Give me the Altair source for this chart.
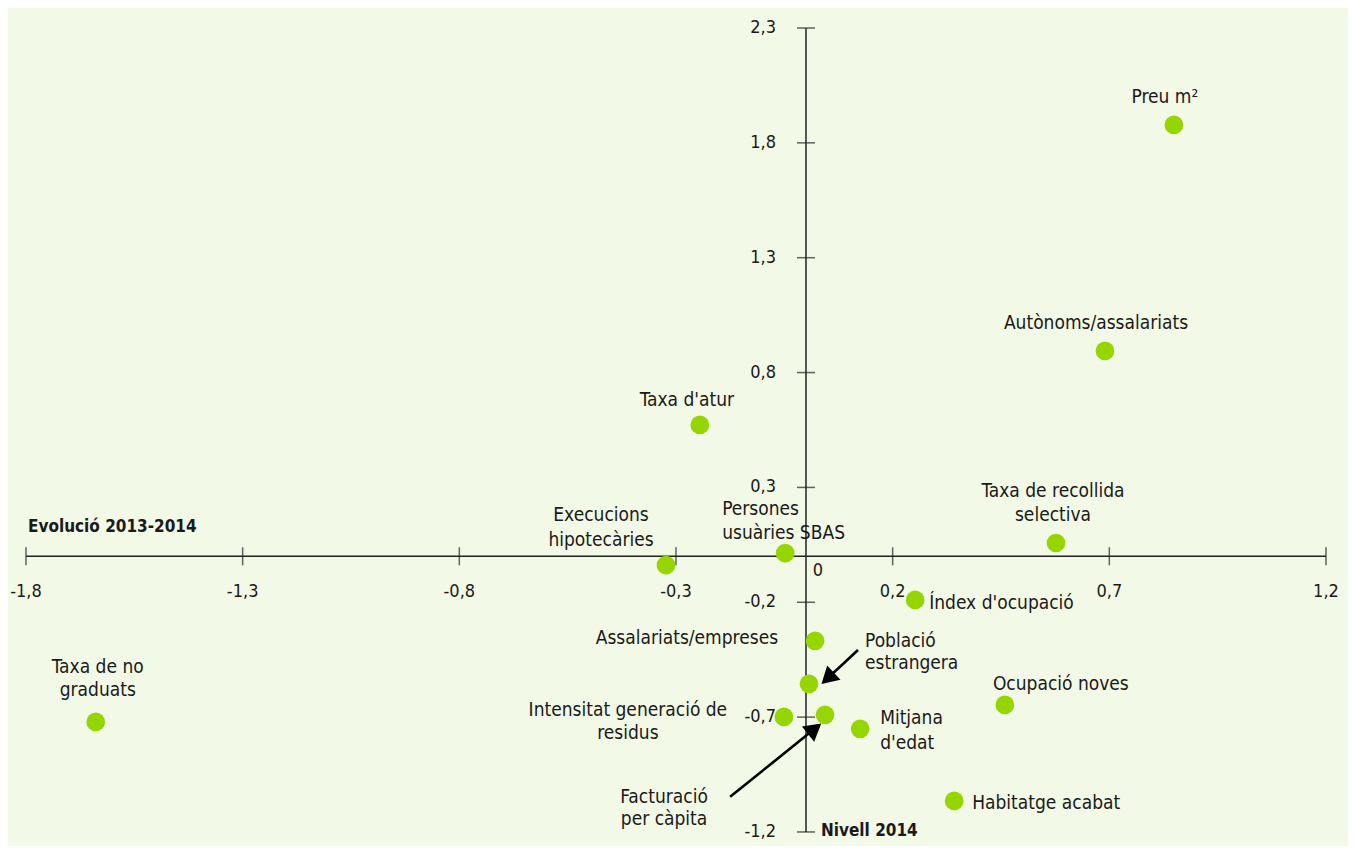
import math
import altair as alt
import pandas as pd

# ---- data ----
names = ["Preu m²", "Autònoms/assalariats", "Taxa d'atur", "Taxa de recollida selectiva",
         "Execucions hipotecàries", "Persones usuàries SBAS", "Índex d'ocupació",
         "Assalariats/empreses", "Població estrangera", "Intensitat generació de residus",
         "Facturació per càpita", "Mitjana d'edat", "Ocupació noves", "Habitatge acabat",
         "Taxa de no graduats"]
evolucio = [0.849, 0.690, -0.245, 0.577, -0.323, -0.048, 0.252, 0.021, 0.007, -0.051,
            0.044, 0.125, 0.459, 0.342, -1.639]
nivell = [1.878, 0.894, 0.572, 0.058, -0.038, 0.014, -0.190, -0.368, -0.555, -0.699,
          -0.690, -0.751, -0.647, -1.065, -0.721]

x_ticks = [-1.8, -1.3, -0.8, -0.3, 0.2, 0.7, 1.2]
x_tick_labels = ["-1,8", "-1,3", "-0,8", "-0,3", "0,2", "0,7", "1,2"]
y_ticks = [-1.2, -0.7, -0.2, 0.3, 0.8, 1.3, 1.8, 2.3]
y_tick_labels = ["-1,2", "-0,7", "-0,2", "0,3", "0,8", "1,3", "1,8", "2,3"]

# arrows: tail -> head (data coords)
arrow_tail_x = [0.120, -0.175]
arrow_tail_y = [-0.408, -1.047]
arrow_head_x = [0.050, 0.020]
arrow_head_y = [-0.531, -0.751]

x_title = "Evolució 2013-2014"
y_title = "Nivell 2014"

# ---- layout ----
W, H = 1340, 838
XDOM = [-1.8415, 1.2508]
YDOM = [-1.2611, 2.3871]
PX_X = W / (XDOM[1] - XDOM[0])
PX_Y = H / (YDOM[1] - YDOM[0])

FONT = "'DejaVu Sans Condensed', 'Liberation Sans Narrow', Roboto, sans-serif"
FS = 19
FS_TICK = 18
FS_TITLE = 17
TXT = "#1a1a1a"
AXC = "#222222"
GREEN = "#96d600"

xs = alt.Scale(domain=XDOM, nice=False, zero=False)
ys = alt.Scale(domain=YDOM, nice=False, zero=False)
X = lambda f: alt.X(f, type="quantitative", scale=xs, axis=None)
Y = lambda f: alt.Y(f, type="quantitative", scale=ys, axis=None)

layers = []

# axis lines
axes_df = pd.DataFrame({"x": [x_ticks[0], 0.0], "x2": [x_ticks[-1], 0.0],
                        "y": [0.0, y_ticks[0]], "y2": [0.0, y_ticks[-1]]})
layers.append(alt.Chart(axes_df).mark_rule(color=AXC, strokeWidth=1.5).encode(
    x=X("x"), x2="x2", y=Y("y"), y2="y2"))

# ticks
xt_df = pd.DataFrame({"v": x_ticks, "lab": x_tick_labels, "z": 0.0})
yt_df = pd.DataFrame({"v": y_ticks, "lab": y_tick_labels, "z": 0.0})
layers.append(alt.Chart(xt_df).mark_tick(orient="vertical", size=18, thickness=1.5, color=AXC).encode(
    x=X("v"), y=Y("z")))
layers.append(alt.Chart(yt_df).mark_tick(orient="horizontal", size=18, thickness=1.5, color=AXC).encode(
    x=X("z"), y=Y("v")))
layers.append(alt.Chart(xt_df).mark_text(font=FONT, fontSize=FS_TICK, color=TXT, dy=36, baseline="middle").encode(
    x=X("v"), y=Y("z"), text="lab:N"))
layers.append(alt.Chart(yt_df).mark_text(font=FONT, fontSize=FS_TICK, color=TXT, dx=-30, align="right", baseline="middle").encode(
    x=X("z"), y=Y("v"), text="lab:N"))
zero_df = pd.DataFrame({"x": [0.0], "y": [0.0], "t": ["0"]})
layers.append(alt.Chart(zero_df).mark_text(font=FONT, fontSize=FS_TICK, color=TXT, dx=12, dy=15, baseline="middle").encode(
    x=X("x"), y=Y("y"), text="t:N"))

# axis titles
t_df = pd.DataFrame({"x": [x_ticks[0], 0.0], "y": [0.0, y_ticks[0]], "t": [x_title, y_title]})
layers.append(alt.Chart(t_df.iloc[[0]]).mark_text(font=FONT, fontSize=FS_TITLE, fontWeight="bold", color=TXT,
                                                   align="left", dx=2, dy=-29, baseline="middle").encode(
    x=X("x"), y=Y("y"), text="t:N"))
layers.append(alt.Chart(t_df.iloc[[1]]).mark_text(font=FONT, fontSize=FS_TITLE, fontWeight="bold", color=TXT,
                                                   align="left", dx=15, dy=-1, baseline="middle").encode(
    x=X("x"), y=Y("y"), text="t:N"))

# arrows
arr_df = pd.DataFrame({"x": arrow_tail_x, "y": arrow_tail_y, "x2": arrow_head_x, "y2": arrow_head_y})
layers.append(alt.Chart(arr_df).mark_rule(color="#000000", strokeWidth=2.6).encode(
    x=X("x"), y=Y("y"), x2="x2", y2="y2"))
for i in range(len(arrow_tail_x)):
    dxp = (arrow_head_x[i] - arrow_tail_x[i]) * PX_X
    dyp = -(arrow_head_y[i] - arrow_tail_y[i]) * PX_Y
    ang = math.degrees(math.atan2(dxp, -dyp)) % 360
    hd = pd.DataFrame({"x": [arrow_head_x[i]], "y": [arrow_head_y[i]]})
    layers.append(alt.Chart(hd).mark_point(shape="triangle-up", filled=True, color="#000000", opacity=1,
                                           size=380, angle=ang).encode(x=X("x"), y=Y("y")))

# points
pts = pd.DataFrame({"name": names, "x": evolucio, "y": nivell})
layers.append(alt.Chart(pts).mark_circle(size=350, color=GREEN, opacity=1).encode(
    x=X("x"), y=Y("y")))

# labels: (lines, align, dx, dy of each line)
label_style = {
    "Preu m²": (["Preu m²"], "center", -9, [-28]),
    "Autònoms/assalariats": (["Autònoms/assalariats"], "center", -9, [-28]),
    "Taxa d'atur": (["Taxa d'atur"], "center", -13, [-25]),
    "Taxa de recollida selectiva": (["Taxa de recollida", "selectiva"], "center", -3, [-52, -28]),
    "Execucions hipotecàries": (["Execucions", "hipotecàries"], "center", -65, [-50, -25]),
    "Persones usuàries SBAS": (["Persones", "usuàries SBAS"], "left", -63, [-44, -20]),
    "Índex d'ocupació": (["Índex d'ocupació"], "left", 14, [3]),
    "Assalariats/empreses": (["Assalariats/empreses"], "right", -37, [-3]),
    "Població estrangera": (["Població", "estrangera"], "left", 56, [-43, -21]),
    "Intensitat generació de residus": (["Intensitat generació de", "residus"], "center", -156, [-7, 16]),
    "Facturació per càpita": (["Facturació", "per càpita"], "center", -161, [82, 104]),
    "Mitjana d'edat": (["Mitjana", "d'edat"], "left", 20, [-11, 14]),
    "Ocupació noves": (["Ocupació noves"], "left", -12, [-21]),
    "Habitatge acabat": (["Habitatge acabat"], "left", 18, [2]),
    "Taxa de no graduats": (["Taxa de no", "graduats"], "center", 2, [-55, -32]),
}
for i, nm in enumerate(names):
    lines, al, dx, dys = label_style[nm]
    for line, dy in zip(lines, dys):
        ld = pd.DataFrame({"x": [evolucio[i]], "y": [nivell[i]], "t": [line]})
        layers.append(alt.Chart(ld).mark_text(font=FONT, fontSize=FS, color=TXT, align=al,
                                              dx=dx, dy=dy, baseline="middle").encode(
            x=X("x"), y=Y("y"), text="t:N"))

chart = alt.layer(*layers).properties(
    width=W, height=H, background="#f2f9e6", padding=0,
    autosize=alt.AutoSizeParams(type="none")
).configure_view(stroke=None)

chart.save("out.html", embed_options={"renderer": "svg", "actions": False})
